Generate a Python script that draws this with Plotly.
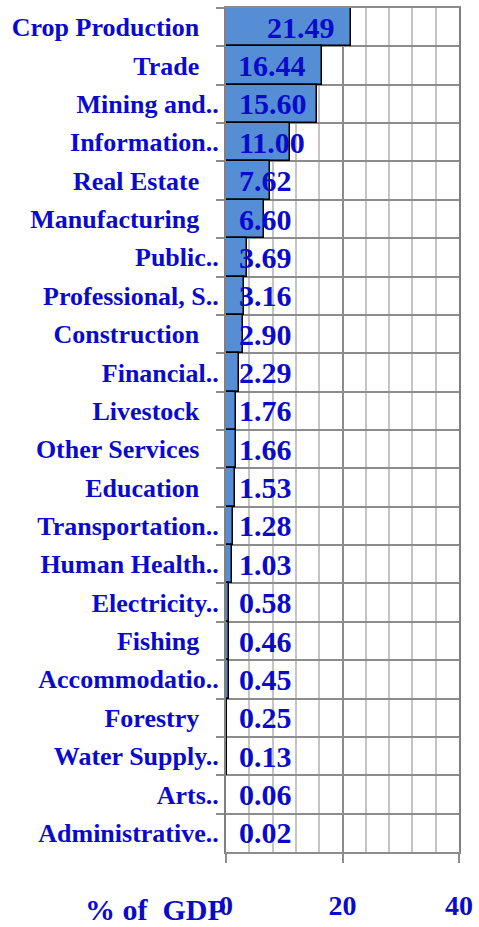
import plotly.graph_objects as go

categories = ["Crop Production\u00a0\u00a0\u00a0", "Trade\u00a0\u00a0\u00a0", "Mining and..", "Information..",
              "Real Estate\u00a0\u00a0\u00a0", "Manufacturing\u00a0\u00a0\u00a0", "Public..", "Professional, S..",
              "Construction\u00a0\u00a0\u00a0", "Financial..", "Livestock\u00a0\u00a0\u00a0", "Other Services\u00a0\u00a0\u00a0",
              "Education\u00a0\u00a0\u00a0", "Transportation..", "Human Health..", "Electricity..",
              "Fishing\u00a0\u00a0\u00a0", "Accommodatio..", "Forestry\u00a0\u00a0\u00a0", "Water Supply..",
              "Arts..", "Administrative.."]
values = [21.49, 16.44, 15.60, 11.00, 7.62, 6.60, 3.69, 3.16, 2.90, 2.29, 1.76, 1.66,
          1.53, 1.28, 1.03, 0.58, 0.46, 0.45, 0.25, 0.13, 0.06, 0.02]
x_ticks = [0, 20, 40]
x_title = "% of\u00a0 GDP"

BLUE = "#0A0ACC"
FONT = "Liberation Serif"

fig = go.Figure()
fig.add_trace(go.Bar(
    y=categories, x=values, orientation="h",
    marker=dict(color="#558ED5", line=dict(color="#000000", width=1.5)),
    width=1.0,
))

annotations = []
for c, v in zip(categories, values):
    if v > 16:
        annotations.append(dict(x=v, y=c, xref="x", yref="y", text=f"{v:.2f}", showarrow=False,
                                xanchor="right", xshift=-14,
                                font=dict(family=FONT, size=30, color=BLUE, weight="bold")))
    else:
        annotations.append(dict(x=0, y=c, xref="x", yref="y", text=f"{v:.2f}", showarrow=False,
                                xanchor="left", xshift=11,
                                font=dict(family=FONT, size=30, color=BLUE, weight="bold")))
annotations.append(dict(x=0, y=0, xref="paper", yref="paper", text=x_title, showarrow=False,
                        xanchor="right", yanchor="middle", xshift=2, yshift=-57,
                        font=dict(family=FONT, size=30, color=BLUE, weight="bold")))

fig.update_layout(
    width=479, height=927,
    margin=dict(l=226, r=16, t=6, b=72),
    paper_bgcolor="white", plot_bgcolor="white",
    showlegend=False, bargap=0,
    annotations=annotations,
    xaxis=dict(range=[0, 40], tickvals=x_ticks, ticktext=[str(t) for t in x_ticks],
               showgrid=True, gridcolor="#8C8C8C", gridwidth=1.5,
               minor=dict(dtick=4, tick0=0, showgrid=True, gridcolor="#C4C4C4", gridwidth=1.5),
               ticks="outside", ticklen=9, tickcolor="#8C8C8C", tickwidth=1.5,
               showline=True, linecolor="#8C8C8C", linewidth=2, mirror=True,
               ticklabelstandoff=18, zeroline=False,
               tickfont=dict(family=FONT, size=28, color=BLUE, weight="bold")),
    yaxis=dict(autorange="reversed", tickson="boundaries",
               showgrid=True, gridcolor="#8C8C8C", gridwidth=1.5,
               ticks="outside", ticklen=8, tickcolor="#8C8C8C", tickwidth=1.5,
               showline=True, linecolor="#808080", linewidth=2, mirror=True,
               tickfont=dict(family=FONT, size=26, color=BLUE, weight="bold")),
)

fig.write_html("out.html", config={"displayModeBar": False},
               post_script="document.body.style.margin='0';document.body.style.overflow='hidden';")
